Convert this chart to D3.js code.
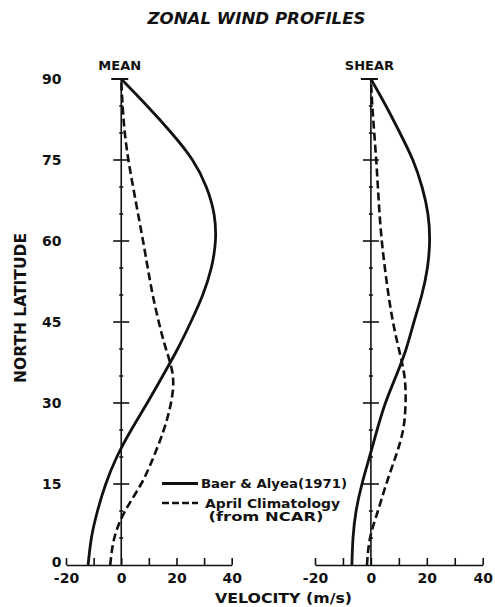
<!DOCTYPE html>
<html>
<head>
<meta charset="utf-8">
<script src="https://cdn.jsdelivr.net/npm/d3@7"></script>
<style>
  html, body { margin: 0; padding: 0; background: #fff; }
  svg { display: block; }
  text { font-family: "DejaVu Sans", sans-serif; font-weight: bold; fill: #111; }
</style>
</head>
<body>
<svg id="chart" width="495" height="607"></svg>
<script>
// Latitudes (degrees N) at which the profiles are tabulated
const latitudes = [0, 5, 10, 15, 20, 25, 30, 35, 40, 45, 50, 55, 60, 65, 70, 75, 80, 85, 90];

// MEAN panel: zonal wind (m/s)
const meanBaerAlyea = [-12, -10.8, -8.6, -5.6, -1.6, 3.6, 9.4, 15, 20.4, 25.2, 29.5, 32.6, 34.1, 33.6, 30.8, 25.8, 18.2, 9.4, 0];
const meanApril     = [-4, -2.5, 1.4, 7.2, 11.7, 15.4, 18, 18.7, 16.2, 13.6, 11.4, 9.6, 7.9, 6.1, 4.3, 2.6, 1.3, 0.5, 0];

// SHEAR panel: zonal wind shear (m/s)
const shearBaerAlyea = [-6.8, -6.4, -5.3, -3.2, -0.5, 2.2, 5.2, 9, 12.6, 15.4, 18.2, 20.2, 21, 20.4, 18.3, 15, 10.4, 5.4, 0];
const shearApril     = [-1.4, -0.3, 2.5, 5.5, 8.8, 11.5, 12.4, 12, 10, 7.9, 6.3, 5, 3.9, 3.1, 2.5, 1.9, 1.2, 0.5, 0];

// Axis ticks and labels
const velocityTicks = [-20, -10, 0, 10, 20, 30, 40];
const velocityLabels = [-20, 0, 20, 40];
const latMajor = [15, 30, 45, 60, 75];
const latLabels = [0, 15, 30, 45, 60, 75, 90];
const latMinor = [5, 10, 20, 25, 35, 40, 50, 55, 65, 70, 80, 85];

const panelTitles = ["MEAN", "SHEAR"];
const legendLabels = ["Baer & Alyea(1971)", "April Climatology", "(from NCAR)"];

const svg = d3.select("#chart");

const y = d3.scaleLinear().domain([0, 90]).range([565, 79]);
const panels = [
  { title: panelTitles[0], x: d3.scaleLinear().domain([-20, 40]).range([66, 231.7]), solid: meanBaerAlyea, dashed: meanApril },
  { title: panelTitles[1], x: d3.scaleLinear().domain([-20, 40]).range([315, 482.7]), solid: shearBaerAlyea, dashed: shearApril }
];

// Title
svg.append("text")
  .attr("x", 256.5).attr("y", 24)
  .attr("text-anchor", "middle")
  .attr("font-size", 15).attr("font-style", "italic")
  .attr("textLength", 218).attr("lengthAdjust", "spacingAndGlyphs")
  .text("ZONAL WIND PROFILES");

panels.forEach(p => {
  const x = p.x;
  const x0 = x(0);
  const g = svg.append("g");

  // Horizontal velocity axis with upward ticks
  const axis = d3.axisBottom(x)
    .tickValues(velocityTicks)
    .tickSizeInner(-7).tickSizeOuter(0)
    .tickPadding(8)
    .tickFormat(d => velocityLabels.includes(d) ? d : "");
  const ax = g.append("g").attr("transform", `translate(0,${y(0)})`).call(axis);
  ax.select(".domain").attr("stroke", "#111").attr("stroke-width", 1.6);
  ax.selectAll(".tick line").attr("stroke", "#111").attr("stroke-width", 1.6);
  ax.selectAll(".tick text")
    .attr("font-size", 14).attr("fill", "#111")
    .attr("font-family", "DejaVu Sans, sans-serif").attr("font-weight", "bold");

  // Vertical zero line with latitude marks
  g.append("line")
    .attr("x1", x0).attr("x2", x0).attr("y1", y(0)).attr("y2", y(90))
    .attr("stroke", "#111").attr("stroke-width", 1.6);
  g.selectAll(".major").data(latMajor).join("line")
    .attr("x1", x0 - 8).attr("x2", x0 + 8)
    .attr("y1", d => y(d)).attr("y2", d => y(d))
    .attr("stroke", "#111").attr("stroke-width", 1.6);
  g.selectAll(".minor").data(latMinor).join("line")
    .attr("x1", x0 - 2).attr("x2", x0 + 2)
    .attr("y1", d => y(d)).attr("y2", d => y(d))
    .attr("stroke", "#111").attr("stroke-width", 1.6);
  g.append("line")
    .attr("x1", x0 - 10).attr("x2", x0 + 7)
    .attr("y1", y(90)).attr("y2", y(90))
    .attr("stroke", "#111").attr("stroke-width", 2);

  // Panel heading
  g.append("text")
    .attr("x", x0 - 1.5).attr("y", 69.5)
    .attr("text-anchor", "middle").attr("font-size", 13)
    .text(p.title);

  const line = d3.line()
    .x(d => x(d[0]))
    .y(d => y(d[1]))
    .curve(d3.curveNatural);

  g.append("path")
    .datum(latitudes.map((lat, i) => [p.solid[i], lat]))
    .attr("d", line)
    .attr("fill", "none").attr("stroke", "#111").attr("stroke-width", 2.8);

  g.append("path")
    .datum(latitudes.map((lat, i) => [p.dashed[i], lat]))
    .attr("d", line)
    .attr("fill", "none").attr("stroke", "#111").attr("stroke-width", 2.6)
    .attr("stroke-dasharray", "8,4");
});

// Latitude labels on the left panel
svg.append("g").selectAll("text").data(latLabels).join("text")
  .attr("x", 61.5).attr("y", d => y(d) + (d === 0 ? 1.5 : 5))
  .attr("text-anchor", "end").attr("font-size", 14)
  .text(d => d);

// Axis titles
svg.append("text")
  .attr("transform", "translate(26,308) rotate(-90)")
  .attr("text-anchor", "middle").attr("font-size", 15)
  .attr("textLength", 150).attr("lengthAdjust", "spacingAndGlyphs")
  .text("NORTH LATITUDE");

svg.append("text")
  .attr("x", 283.5).attr("y", 603)
  .attr("text-anchor", "middle").attr("font-size", 14)
  .attr("textLength", 137).attr("lengthAdjust", "spacingAndGlyphs")
  .text("VELOCITY (m/s)");

// Legend
const lg = svg.append("g");
lg.append("line").attr("x1", 162).attr("x2", 198).attr("y1", 483.5).attr("y2", 483.5)
  .attr("stroke", "#111").attr("stroke-width", 2.8);
lg.append("line").attr("x1", 162).attr("x2", 198).attr("y1", 503).attr("y2", 503)
  .attr("stroke", "#111").attr("stroke-width", 2.6).attr("stroke-dasharray", "7,3");
lg.append("text").attr("x", 201).attr("y", 488).attr("font-size", 13)
  .attr("textLength", 146).attr("lengthAdjust", "spacingAndGlyphs")
  .text(legendLabels[0]);
lg.append("text").attr("x", 205).attr("y", 507.5).attr("font-size", 12)
  .attr("textLength", 135).attr("lengthAdjust", "spacingAndGlyphs")
  .text(legendLabels[1]);
lg.append("text").attr("x", 266).attr("y", 521).attr("font-size", 12)
  .attr("text-anchor", "middle")
  .attr("textLength", 115).attr("lengthAdjust", "spacingAndGlyphs")
  .text(legendLabels[2]);
</script>
</body>
</html>
